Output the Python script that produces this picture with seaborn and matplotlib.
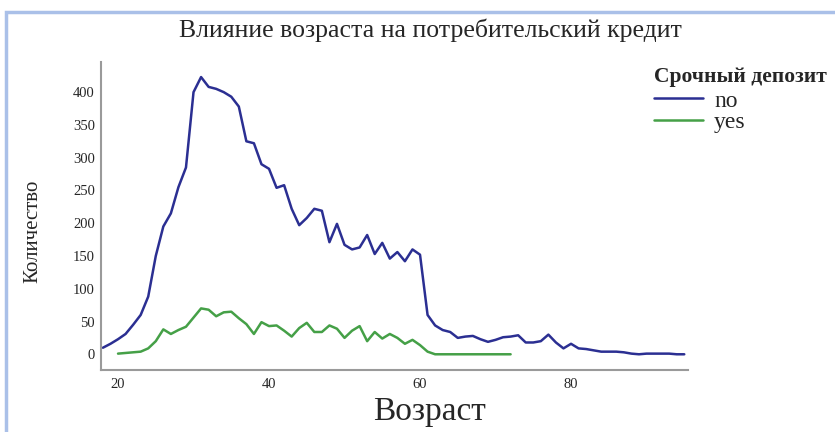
import matplotlib
matplotlib.use('Agg')
import matplotlib.pyplot as plt
import numpy as np
import pandas as pd
import seaborn as sns
from matplotlib.patches import Rectangle

# Counts per age
ages_no = list(range(18, 96))
counts_no = [10, 16, 23, 31, 45, 60, 88, 150, 195, 215, 255, 285, 400, 423, 408, 405,
             400, 393, 378, 325, 322, 290, 283, 254, 258, 222, 197, 208, 222, 219, 171,
             199, 167, 160, 163, 182, 153, 170, 146, 156, 142, 160, 152, 60, 44, 37, 34,
             25, 27, 28, 23, 19, 22, 26, 27, 29, 18, 18, 20, 30, 18, 9, 16, 9, 8, 6, 4,
             4, 4, 3, 1, 0, 1, 1, 1, 1, 0, 0]
ages_yes = list(range(20, 73))
counts_yes = [1, 2, 3, 4, 9, 20, 38, 31, 37, 42, 56, 70, 68, 58, 64, 65, 55, 46, 31, 49,
              43, 44, 36, 27, 40, 48, 34, 34, 44, 39, 25, 36, 43, 20, 34, 24, 31, 25, 16,
              22, 14, 4, 0, 0, 0, 0, 0, 0, 0, 0, 0, 0, 0]

df = pd.concat([
    pd.DataFrame({'age': ages_no, 'count': counts_no, 'deposit': 'no'}),
    pd.DataFrame({'age': ages_yes, 'count': counts_yes, 'deposit': 'yes'}),
])

sns.set_style('white')
plt.rcParams['font.family'] = ['Liberation Serif', 'DejaVu Serif']

fig = plt.figure(figsize=(8.35, 4.32), dpi=100)
ax = fig.add_axes([0.121, 0.1435, 0.703, 0.713])

sns.lineplot(data=df, x='age', y='count', hue='deposit',
             palette={'no': '#2b2f92', 'yes': '#45a047'}, linewidth=1.8, ax=ax)

ax.set_xlim(17.75, 95.5)
ax.set_ylim(-24, 446)
ax.set_xticks([20, 40, 60, 80])
ax.set_yticks(np.arange(0, 401, 50))
sns.despine(ax=ax)
for s in ['left', 'bottom']:
    ax.spines[s].set_color('#9a9a9a')
    ax.spines[s].set_linewidth(1.5)
ax.tick_params(axis='y', length=3, color='#9a9a9a', labelsize=10.5, pad=1.5)
ax.tick_params(axis='x', length=0, labelsize=10.5, pad=6)

ax.set_xlabel('Возраст', fontsize=24)
ax.xaxis.set_label_coords(0.559, -0.085)
ax.set_ylabel('Количество', fontsize=15)
ax.yaxis.set_label_coords(-0.10, 0.45)
fig.text(0.516, 0.93, 'Влияние возраста на потребительский кредит',
         ha='center', va='center', fontsize=18.5)

leg = ax.legend(title='Срочный депозит', loc='upper left', bbox_to_anchor=(0.783, 0.844),
                bbox_transform=fig.transFigure, frameon=False, fontsize=17,
                handlelength=2.1, labelspacing=0.0, borderaxespad=0, borderpad=0,
                handletextpad=0.45)
leg.get_title().set_fontweight('bold')
leg.get_title().set_fontsize(15.5)
leg._legend_box.align = 'left'
leg._legend_box.sep = 2

# light blue frame of the original screenshot
fig.add_artist(Rectangle((6 / 835, -0.2), 1.2, 0.2 + 1 - 12 / 432, transform=fig.transFigure,
                         fill=False, edgecolor='#aac0e8', linewidth=2.5))

fig.savefig('out.png', dpi=100)
